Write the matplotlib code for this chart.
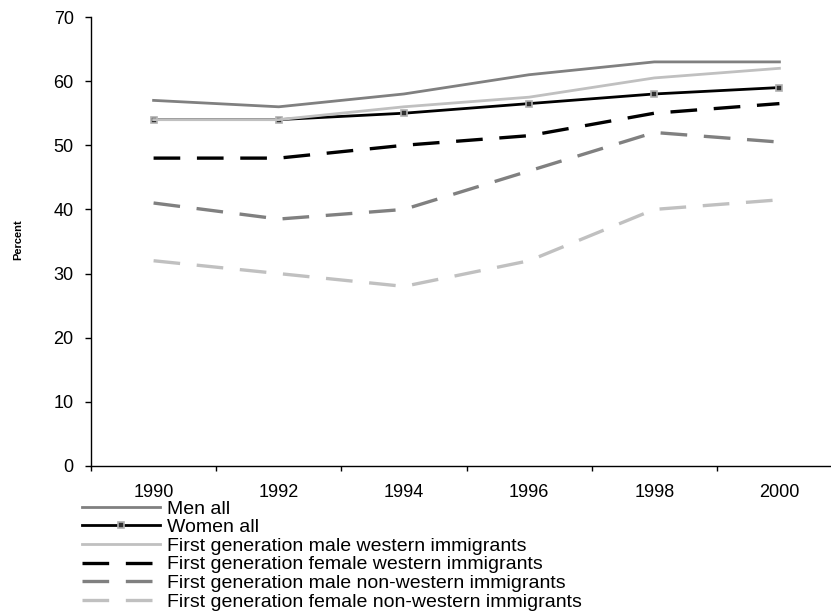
import matplotlib
matplotlib.use("Agg")
import matplotlib.pyplot as plt

years = ["1990", "1992", "1994", "1996", "1998", "2000"]

men_all = [57, 56, 58, 61, 63, 63]
women_all = [54, 54, 55, 56.5, 58, 59]
male_western = [54, 54, 56, 57.5, 60.5, 62]
female_western = [48, 48, 50, 51.5, 55, 56.5]
male_nonwestern = [41, 38.5, 40, 46, 52, 50.5]
female_nonwestern = [32, 30, 28, 32, 40, 41.5]

plt.rcParams["font.family"] = ["Liberation Sans", "DejaVu Sans"]

W, H = 831, 613
fig = plt.figure(figsize=(W / 100, H / 100), dpi=100)
ax = fig.add_axes([91 / W, 1 - 466 / H, 751 / W, 449 / H])

x = list(range(len(years)))
lw = 2.0
ax.plot(x, men_all, color="#808080", lw=lw, label="Men all")
ax.plot(x, women_all, color="black", lw=lw, marker="s", ms=5,
        mfc="#303030", mec="#b0b0b0", mew=1.2, label="Women all")
ax.plot(x, male_western, color="#c0c0c0", lw=lw,
        label="First generation male western immigrants")
ax.plot(x, female_western, color="black", lw=2.4, dashes=(8, 5),
        label="First generation female western immigrants")
ax.plot(x, male_nonwestern, color="#808080", lw=2.4, dashes=(8, 5),
        label="First generation male non-western immigrants")
ax.plot(x, female_nonwestern, color="#c0c0c0", lw=2.4, dashes=(8, 5),
        label="First generation female non-western immigrants")

ax.set_xlim(-0.5, 5.5)
ax.set_ylim(0, 70)
ax.set_yticks(range(0, 71, 10))
# category axis: tick marks between categories, labels centred
ax.set_xticks([i + 0.5 for i in range(-1, 6)])
ax.set_xticklabels([""] * 7)
ax.set_xticks(x, minor=True)
ax.set_xticklabels(years, minor=True)
ax.tick_params(axis="x", which="major", direction="out", length=3.5, width=1)
ax.tick_params(axis="x", which="minor", length=0, pad=13, labelsize=13)
ax.tick_params(axis="y", direction="out", length=4.5, width=1, pad=8,
               labelsize=13)
ax.spines["top"].set_visible(False)
ax.spines["right"].set_visible(False)
for s in ("left", "bottom"):
    ax.spines[s].set_linewidth(1)

fig.text(18 / W, 1 - 240 / H, "Percent", rotation=90, fontsize=8,
         fontweight="bold", ha="center", va="center")

handles, labels = ax.get_legend_handles_labels()
fig.legend(handles, labels, loc="upper left",
           bbox_to_anchor=(82 / W, 1 - 500 / H), frameon=False, fontsize=14,
           handlelength=4.0, handletextpad=0.35, labelspacing=0.05,
           borderpad=0, borderaxespad=0)

fig.savefig("out.png", dpi=100)
